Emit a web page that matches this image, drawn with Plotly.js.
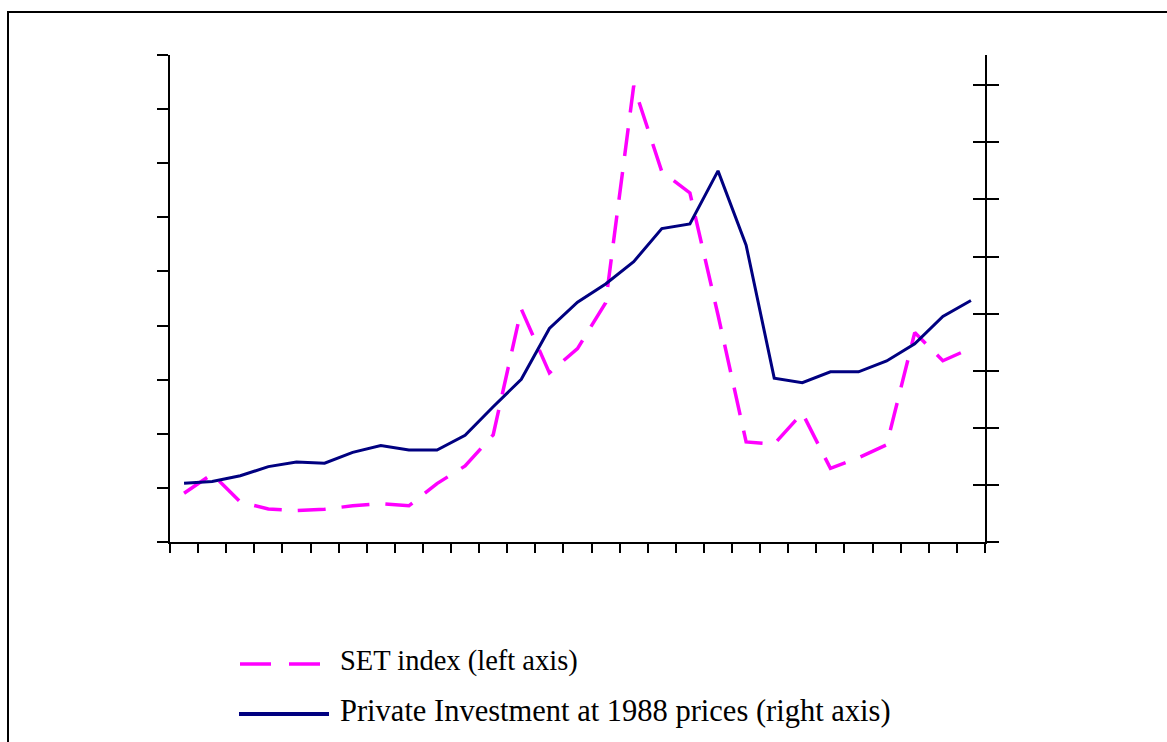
<!DOCTYPE html>
<html>
<head>
<meta charset="utf-8">
<script src="https://cdn.plot.ly/plotly-3.0.1.min.js"></script>
<style>
html,body{margin:0;padding:0;background:#fff;overflow:hidden;}
#chart{width:1167px;height:742px;}
</style>
</head>
<body>
<div id="chart"></div>
<script>
// Years (categories, tick labels are not shown in the original)
const years = [1977,1978,1979,1980,1981,1982,1983,1984,1985,1986,1987,1988,1989,1990,1991,1992,1993,1994,1995,1996,1997,1998,1999,2000,2001,2002,2003,2004,2005];
// SET index (left axis)
const setIndex = [180,251,148,122,116,121,134,142,134,216,281,396,861,625,715,884,1686,1369,1290,839,370,362,477,272,311,359,774,670,716];
// Private investment at 1988 prices (right axis)
const privInv = [103,106,116,132,140,138,157,169,161,161,187,237,285,374,420,452,491,549,557,650,520,287,279,298,298,317,347,395,423];

const legendSet = "SET index (left axis)";
const legendInv = "Private Investment at 1988 prices (right axis)";

const L = 170, R = 985, T = 55, B = 542;
const W = 1167, H = 742;
const px = x => (x - L) / (R - L);
const py = y => (B - y) / (B - T);

const traces = [
  {
    x: years, y: setIndex, type: 'scatter', mode: 'lines', name: legendSet,
    line: {color: '#FF00FF', width: 3.5, dash: '28px,16px'},
    yaxis: 'y', showlegend: false
  },
  {
    x: years, y: privInv, type: 'scatter', mode: 'lines', name: legendInv,
    line: {color: '#000080', width: 3},
    yaxis: 'y2', showlegend: false
  },
  // invisible trace to activate the inner-tick axis on the right
  {x: [years[0]], y: [0], type: 'scatter', mode: 'markers', yaxis: 'y3',
   marker: {opacity: 0}, hoverinfo: 'skip', showlegend: false}
];

const layout = {
  width: W, height: H,
  margin: {l: L, r: W - R, t: T, b: H - B, pad: 0},
  paper_bgcolor: '#fff', plot_bgcolor: 'rgba(0,0,0,0)',
  font: {family: 'Liberation Serif, Times New Roman, serif', color: '#000'},
  xaxis: {
    range: [1976.5, 2005.5], tickmode: 'linear', tick0: 1976.5, dtick: 1,
    showticklabels: false, ticks: 'outside', ticklen: 9, tickwidth: 2, tickcolor: '#000',
    showline: true, linewidth: 2, linecolor: '#000', showgrid: false, zeroline: false
  },
  yaxis: {
    range: [0, 1800], tickmode: 'linear', tick0: 0, dtick: 200,
    showticklabels: false, ticks: 'outside', ticklen: 11, tickwidth: 2, tickcolor: '#000',
    showline: true, linewidth: 2, linecolor: '#000', showgrid: false, zeroline: false
  },
  yaxis2: {
    overlaying: 'y', side: 'right', range: [0, 853], tickmode: 'linear', tick0: 0, dtick: 100,
    showticklabels: false, ticks: 'outside', ticklen: 12, tickwidth: 2, tickcolor: '#000',
    showline: true, linewidth: 2, linecolor: '#000', showgrid: false, zeroline: false
  },
  yaxis3: {
    overlaying: 'y', side: 'right', range: [0, 853], tickmode: 'linear', tick0: 0, dtick: 100,
    showticklabels: false, ticks: 'inside', ticklen: 12, tickwidth: 2, tickcolor: '#000',
    showline: false, showgrid: false, zeroline: false
  },
  shapes: [
    {type: 'rect', xref: 'paper', yref: 'paper', x0: px(8), x1: px(1200), y0: py(800), y1: py(12),
     line: {color: '#000', width: 2}, fillcolor: 'rgba(0,0,0,0)', layer: 'above'},
    {type: 'line', xref: 'paper', yref: 'paper', x0: px(240), x1: px(321), y0: py(664), y1: py(664),
     line: {color: '#FF00FF', width: 3.5, dash: '31px,18px'}},
    {type: 'line', xref: 'paper', yref: 'paper', x0: px(239), x1: px(329), y0: py(714), y1: py(714),
     line: {color: '#000080', width: 4}}
  ],
  annotations: [
    {xref: 'paper', yref: 'paper', x: px(338), y: py(661), xanchor: 'left', yanchor: 'middle',
     text: legendSet, showarrow: false, font: {size: 28.5, family: 'Liberation Serif', color: '#000'}},
    {xref: 'paper', yref: 'paper', x: px(338), y: py(711), xanchor: 'left', yanchor: 'middle',
     text: legendInv, showarrow: false, font: {size: 30.5, family: 'Liberation Serif', color: '#000'}}
  ]
};

Plotly.newPlot('chart', traces, layout, {staticPlot: true, displayModeBar: false});
</script>
</body>
</html>
